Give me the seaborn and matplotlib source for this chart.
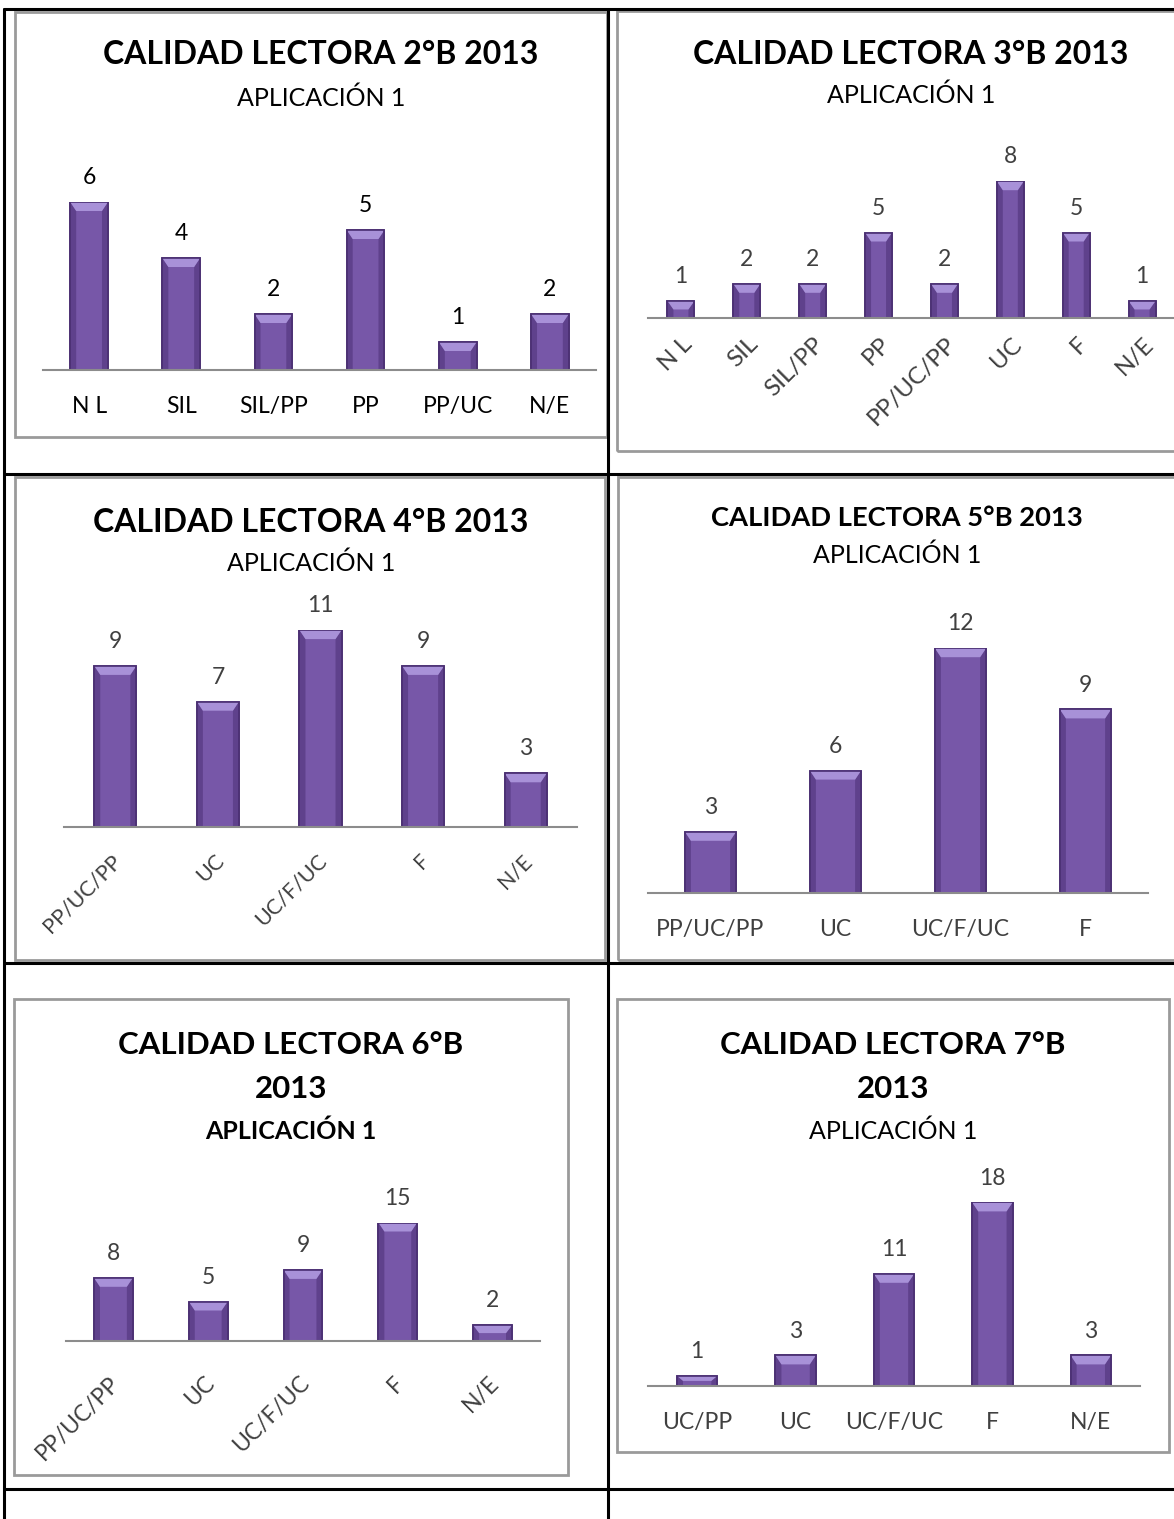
import matplotlib
matplotlib.use('Agg')
import matplotlib.pyplot as plt
import matplotlib.transforms as mtrans
import seaborn as sns
import pandas as pd
from matplotlib.lines import Line2D
from matplotlib.patches import Rectangle, Polygon

# datos de cada curso (calidad lectora, aplicacion 1)
cat_2b = ['N L', 'SIL', 'SIL/PP', 'PP', 'PP/UC', 'N/E']
val_2b = [6, 4, 2, 5, 1, 2]

cat_3b = ['N L', 'SIL', 'SIL/PP', 'PP', 'PP/UC/PP', 'UC', 'F', 'N/E']
val_3b = [1, 2, 2, 5, 2, 8, 5, 1]

cat_4b = ['PP/UC/PP', 'UC', 'UC/F/UC', 'F', 'N/E']
val_4b = [9, 7, 11, 9, 3]

cat_5b = ['PP/UC/PP', 'UC', 'UC/F/UC', 'F']
val_5b = [3, 6, 12, 9]

cat_6b = ['PP/UC/PP', 'UC', 'UC/F/UC', 'F', 'N/E']
val_6b = [8, 5, 9, 15, 2]

cat_7b = ['UC/PP', 'UC', 'UC/F/UC', 'F', 'N/E']
val_7b = [1, 3, 11, 18, 3]

sns.set_theme(style='white')
plt.rcParams['font.family'] = ['Lato', 'DejaVu Sans']

W, H = 1174, 1519
fig = plt.figure(figsize=(W / 100, H / 100), dpi=100)

BAR = '#7757a8'
EDGE = '#4a2f72'
TOP = '#a891d8'
SIDE = '#5f418c'
TXT = '#404040'


def fx(x):
    return x / W


def fy(y):
    return 1 - y / H


def hline(y, x0, x1, **kw):
    fig.add_artist(Line2D([fx(x0), fx(x1)], [fy(y), fy(y)], transform=fig.transFigure, **kw))


def vline(x, y0, y1, **kw):
    fig.add_artist(Line2D([fx(x), fx(x)], [fy(y0), fy(y1)], transform=fig.transFigure, **kw))


def box(x0, y0, x1, y1):
    fig.add_artist(Rectangle((fx(x0), fy(y1)), (x1 - x0) / W, (y1 - y0) / H,
                             transform=fig.transFigure, fill=False,
                             edgecolor='#9a9a9a', lw=2))


def bevel(ax, unit, step):
    # efecto "biselado" de las barras de Excel
    for p in list(ax.patches):
        x, w, h = p.get_x(), p.get_width(), p.get_height()
        dy = min(9 / unit, h * 0.5)
        dx = 6 / step
        z = p.get_zorder()
        ax.add_patch(Polygon([(x, 0), (x + dx, 0), (x + dx, h - dy), (x, h)],
                             closed=True, color=SIDE, lw=0, zorder=z + 0.1))
        ax.add_patch(Polygon([(x + w, 0), (x + w - dx, 0), (x + w - dx, h - dy), (x + w, h)],
                             closed=True, color=SIDE, lw=0, zorder=z + 0.1))
        ax.add_patch(Polygon([(x, h), (x + w, h), (x + w - dx, h - dy), (x + dx, h - dy)],
                             closed=True, color=TOP, lw=0, zorder=z + 0.1))
        ax.add_patch(Rectangle((x, 0), w, h, fill=False, edgecolor=EDGE, lw=1.2, zorder=z + 0.2))


def chart(cats, vals, left, right, base, unit, rot=False, pad=19, lab_color=TXT,
          lab_size=16.5, shift=(0, 0)):
    top = base - max(vals) * unit
    ax = fig.add_axes([fx(left), fy(base), (right - left) / W, (base - top) / H])
    df = pd.DataFrame({'cat': cats, 'n': vals})
    sns.barplot(data=df, x='cat', y='n', ax=ax, color=BAR, saturation=1,
                width=0.41, edgecolor=EDGE, linewidth=1.2)
    ax.set_ylim(0, max(vals))
    ax.set_xlim(-0.5, len(cats) - 0.5)
    ax.set_xlabel('')
    ax.set_ylabel('')
    ax.set_yticks([])
    ax.patch.set_alpha(0)
    for s in ['top', 'left', 'right']:
        ax.spines[s].set_visible(False)
    ax.spines['bottom'].set_color('#8c8c8c')
    ax.spines['bottom'].set_linewidth(1.5)
    ax.tick_params(axis='x', length=0, pad=pad, labelsize=lab_size, labelcolor=lab_color)
    ax.bar_label(ax.containers[0], padding=10, fontsize=16.5, color=lab_color)
    bevel(ax, unit, (right - left) / len(cats))
    if rot:
        off = mtrans.ScaledTranslation(shift[0] / 100, -shift[1] / 100, fig.dpi_scale_trans)
        for t in ax.get_xticklabels():
            t.set_rotation(45)
            t.set_ha('right')
            t.set_va('center')
            t.set_rotation_mode('anchor')
            t.set_transform(t.get_transform() + off)
    return ax


def title(cx, lines):
    for y, txt, size, bold in lines:
        fig.text(fx(cx), fy(y), txt, ha='center', va='center', fontsize=size,
                 fontweight='bold' if bold else 'normal', color='black')


# recuadros de cada grafico
box(15, 12, 607, 437)
box(617, 11, 1185, 451)
box(15, 477, 605, 960)
box(618, 477, 1185, 960)
box(14, 999, 568, 1475)
box(617, 999, 1169, 1452)

# 2°B
chart(cat_2b, val_2b, 43, 596, 370, 28, lab_color='black')
title(321, [(55, 'CALIDAD LECTORA 2°B 2013', 23, True), (98, 'APLICACIÓN 1', 18, False)])

# 3°B
chart(cat_3b, val_3b, 648, 1175, 318, 17.1, rot=True, pad=10, lab_size=17.5, shift=(8, 9))
title(911, [(55, 'CALIDAD LECTORA 3°B 2013', 23, True), (95, 'APLICACIÓN 1', 18, False)])

# 4°B
chart(cat_4b, val_4b, 64, 577, 827, 17.9, rot=True, pad=22, lab_size=15.5, shift=(3, 0))
title(311, [(523, 'CALIDAD LECTORA 4°B 2013', 23, True), (563, 'APLICACIÓN 1', 18, False)])

# 5°B
chart(cat_5b, val_5b, 648, 1148, 893, 20.4)
title(897, [(518, 'CALIDAD LECTORA 5°B 2013', 19.7, True), (555, 'APLICACIÓN 1', 18, False)])

# 6°B
chart(cat_6b, val_6b, 66, 540, 1341, 7.9, rot=True, pad=28, shift=(3, 0))
title(291, [(1045, 'CALIDAD LECTORA 6°B', 22.5, True), (1089, '2013', 22.5, True),
            (1131, 'APLICACIÓN 1', 18, True)])

# 7°B
chart(cat_7b, val_7b, 648, 1140, 1386, 10.2)
title(893, [(1045, 'CALIDAD LECTORA 7°B', 22.5, True), (1089, '2013', 22.5, True),
            (1131, 'APLICACIÓN 1', 18, False)])

# lineas de la tabla
kw = dict(color='black', lw=2.2)
hline(8.5, 3.5, 1174, **kw)
hline(474, 3.5, 1174, **kw)
hline(963, 3.5, 1174, **kw)
hline(1489, 3.5, 1174, **kw)
vline(3.5, 8.5, 1519, **kw)
vline(608, 8.5, 1519, **kw)

fig.savefig('out.png', dpi=100)
